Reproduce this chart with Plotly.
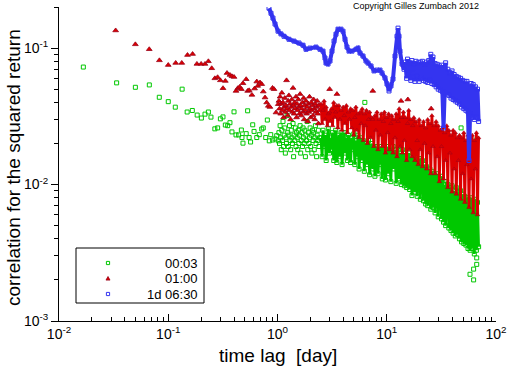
import math
import plotly.graph_objects as go

# ---------------- data ----------------
# 00:03 series: isolated points (short lags + outliers)
green_pts_x = [0.0167, 0.0337, 0.050, 0.0671, 0.0828, 0.100, 0.116, 0.134, 0.149, 0.166,
               0.184, 0.201, 0.217, 0.233, 0.246, 0.267, 0.283, 0.300, 0.317, 0.333,
               0.350, 0.367, 0.383, 0.400, 0.417, 0.441, 0.467, 0.473, 0.483, 0.517,
               0.533, 0.550, 0.567, 0.593, 0.610, 0.646, 0.681, 0.717, 0.741, 0.780,
               0.807, 0.841, 0.867, 0.904, 0.949, 0.984, 1.016,
               6.3, 47.9, 51.0, 67.0, 66.6, 57.8, 62.4, 62.4, 66.6, 60.6]
green_pts_y = [0.0726, 0.0556, 0.0516, 0.0537, 0.0436, 0.0405, 0.0369, 0.050, 0.034, 0.0349,
               0.0323, 0.0307, 0.0328, 0.034, 0.0312, 0.0256, 0.026, 0.0303, 0.0313, 0.0273,
               0.027, 0.0284, 0.0243, 0.0341, 0.0231, 0.0231, 0.0251, 0.0221, 0.0201, 0.0236,
               0.0347, 0.0221, 0.0205, 0.0274, 0.0245, 0.0221, 0.0232, 0.0255, 0.026, 0.0221,
               0.0297, 0.0209, 0.0232, 0.0212, 0.0216, 0.0228, 0.0209,
               0.040, 0.026, 0.050, 0.0215, 0.0026, 0.0022, 0.0024, 0.0020, 0.0029, 0.0034]

# 01:00 series: isolated points (short lags + outliers)
red_pts_x = [0.033, 0.050, 0.067, 0.083, 0.100, 0.117, 0.133, 0.150, 0.167, 0.183,
             0.200, 0.217, 0.233, 0.250, 0.267, 0.283, 0.300, 0.317, 0.333, 0.345,
             0.367, 0.383, 0.400, 0.417, 0.433, 0.450, 0.467, 0.483, 0.517, 0.533,
             0.550, 0.583, 0.617, 0.646, 0.659, 0.692, 0.717, 0.741, 0.769, 0.796,
             0.824, 0.853, 0.900, 0.929, 0.969, 1.016,
             3.0, 7.45, 3.5, 15.6, 13.5, 25.5]
red_pts_y = [0.1346, 0.1065, 0.098, 0.0813, 0.0751, 0.0778, 0.0778, 0.0889, 0.0904, 0.0765,
             0.0765, 0.0765, 0.080, 0.0711, 0.060, 0.0611, 0.058, 0.0508, 0.0574, 0.0656,
             0.0635, 0.0621, 0.0614, 0.0485, 0.0508, 0.0519, 0.050, 0.0552, 0.0591, 0.0485,
             0.049, 0.0454, 0.0505, 0.0568, 0.0528, 0.0559, 0.0544, 0.048, 0.0434, 0.0399,
             0.0377, 0.037, 0.051, 0.050, 0.0337, 0.0388,
             0.050, 0.0485, 0.046, 0.042, 0.041, 0.036]

# lags of the medium range (days), shared by 00:03 and 01:00
lag_mid = [1.030, 1.043, 1.056, 1.069, 1.082, 1.096, 1.109, 1.123, 1.137, 1.151,
           1.166, 1.180, 1.195, 1.210, 1.225, 1.240, 1.256, 1.271, 1.287, 1.303,
           1.320, 1.336, 1.353, 1.370, 1.387, 1.404, 1.422, 1.439, 1.457, 1.476,
           1.494, 1.513, 1.532, 1.551, 1.570, 1.590, 1.610, 1.630, 1.650, 1.671,
           1.692, 1.713, 1.734, 1.756, 1.778, 1.800, 1.822, 1.845, 1.868, 1.892,
           1.915, 1.939, 1.963, 1.988, 2.013, 2.038, 2.064, 2.089, 2.116, 2.142,
           2.169, 2.196, 2.223, 2.251, 2.279, 2.308, 2.337, 2.366, 2.396, 2.426]
green_mid = [0.024, 0.020, 0.027, 0.022, 0.018, 0.025, 0.021, 0.029, 0.019, 0.023,
             0.026, 0.017, 0.022, 0.020, 0.032, 0.024, 0.019, 0.023, 0.027, 0.021,
             0.018, 0.025, 0.022, 0.020, 0.028, 0.016, 0.023, 0.021, 0.026, 0.019,
             0.024, 0.022, 0.018, 0.025, 0.020, 0.023, 0.027, 0.017, 0.021, 0.024,
             0.019, 0.026, 0.022, 0.020, 0.025, 0.016, 0.023, 0.021, 0.029, 0.018,
             0.024, 0.020, 0.022, 0.026, 0.019, 0.023, 0.017, 0.025, 0.021, 0.024,
             0.018, 0.022, 0.027, 0.020, 0.016, 0.023, 0.021, 0.025, 0.019, 0.022]
red_mid = [0.041, 0.036, 0.044, 0.033, 0.039, 0.047, 0.035, 0.040, 0.031, 0.037,
           0.043, 0.034, 0.038, 0.058, 0.036, 0.032, 0.041, 0.045, 0.035, 0.039,
           0.030, 0.037, 0.042, 0.034, 0.051, 0.038, 0.033, 0.040, 0.036, 0.044,
           0.031, 0.039, 0.035, 0.042, 0.037, 0.033, 0.046, 0.038, 0.032, 0.036,
           0.040, 0.034, 0.043, 0.030, 0.038, 0.035, 0.041, 0.033, 0.037, 0.029,
           0.039, 0.034, 0.044, 0.036, 0.031, 0.040, 0.035, 0.038, 0.032, 0.042,
           0.036, 0.030, 0.039, 0.034, 0.037, 0.041, 0.033, 0.028, 0.038, 0.035]

# lags of the dense range (days), shared by 00:03 and 01:00
lag_dense = [2.50, 2.56, 2.61, 2.67, 2.73, 2.79, 2.86, 2.92, 2.99, 3.05,
             3.12, 3.19, 3.27, 3.34, 3.41, 3.49, 3.57, 3.65, 3.73, 3.82,
             3.90, 3.99, 4.08, 4.17, 4.27, 4.36, 4.46, 4.56, 4.67, 4.77,
             4.88, 4.99, 5.10, 5.22, 5.33, 5.45, 5.58, 5.70, 5.83, 5.96,
             6.10, 6.23, 6.37, 6.52, 6.66, 6.81, 6.97, 7.12, 7.28, 7.45,
             7.62, 7.79, 7.96, 8.14, 8.33, 8.51, 8.71, 8.90, 9.10, 9.31,
             9.52, 9.73, 9.95, 10.2, 10.4, 10.6, 10.9, 11.1, 11.4, 11.6,
             11.9, 12.2, 12.4, 12.7, 13.0, 13.3, 13.6, 13.9, 14.2, 14.5,
             14.8, 15.2, 15.5, 15.9, 16.2, 16.6, 17.0, 17.3, 17.7, 18.1,
             18.5, 19.0, 19.4, 19.8, 20.3, 20.7, 21.2, 21.7, 22.2, 22.7,
             23.2, 23.7, 24.2, 24.8, 25.3, 25.9, 26.5, 27.1, 27.7, 28.3,
             29.0, 29.6, 30.3, 31.0, 31.7, 32.4, 33.1, 33.9, 34.6, 35.4,
             36.2, 37.0, 37.9, 38.7, 39.6, 40.5, 41.4, 42.4, 43.3, 44.3,
             45.3, 46.3, 47.4, 48.4, 49.5, 50.7, 51.8, 53.0, 54.2, 55.4,
             56.6, 57.9, 59.2, 60.6, 61.9, 63.3, 64.8, 66.2, 67.7, 69.3]
green_dense = [0.022, 0.016, 0.025, 0.019, 0.023, 0.015, 0.021, 0.0256, 0.017, 0.022,
               0.018, 0.024, 0.015, 0.021, 0.025, 0.0145, 0.020, 0.023, 0.016, 0.024,
               0.014, 0.021, 0.024, 0.017, 0.022, 0.015, 0.023, 0.019, 0.0145, 0.022,
               0.018, 0.0235, 0.014, 0.021, 0.016, 0.023, 0.013, 0.020, 0.022, 0.015,
               0.021, 0.0125, 0.019, 0.020, 0.014, 0.021, 0.0118, 0.018, 0.020, 0.013,
               0.019, 0.0115, 0.017, 0.019, 0.012, 0.018, 0.014, 0.019, 0.011, 0.017,
               0.019, 0.0108, 0.016, 0.019, 0.012, 0.018, 0.0105, 0.017, 0.019, 0.013,
               0.018, 0.0102, 0.016, 0.019, 0.011, 0.017, 0.0100, 0.018, 0.014, 0.0098,
               0.017, 0.0095, 0.015, 0.017, 0.0092, 0.016, 0.0083, 0.014, 0.016, 0.0088,
               0.016, 0.0082, 0.014, 0.0155, 0.0078, 0.013, 0.015, 0.0076, 0.014, 0.0072,
               0.0135, 0.0070, 0.012, 0.013, 0.0066, 0.0125, 0.0068, 0.012, 0.0062, 0.011,
               0.012, 0.0058, 0.0105, 0.011, 0.0056, 0.0115, 0.0053, 0.010, 0.0050, 0.0105,
               0.0100, 0.0048, 0.0095, 0.0046, 0.0098, 0.0044, 0.0090, 0.0042, 0.0095, 0.0043,
               0.0088, 0.0040, 0.0090, 0.0038, 0.0085, 0.0037, 0.0082, 0.0036, 0.0080, 0.0034,
               0.0078, 0.0033, 0.0080, 0.0034, 0.0076, 0.0031, 0.0078, 0.0033, 0.0074, 0.0035]
red_dense = [0.039, 0.028, 0.035, 0.041, 0.030, 0.037, 0.027, 0.033, 0.034, 0.029,
             0.036, 0.027, 0.040, 0.031, 0.034, 0.038, 0.026, 0.038, 0.030, 0.035,
             0.025, 0.037, 0.032, 0.028, 0.038, 0.024, 0.034, 0.030, 0.036, 0.026,
             0.035, 0.023, 0.031, 0.037, 0.025, 0.033, 0.022, 0.034, 0.028, 0.036,
             0.021, 0.033, 0.027, 0.035, 0.020, 0.030, 0.034, 0.022, 0.031, 0.030,
             0.019, 0.032, 0.025, 0.034, 0.018, 0.030, 0.023, 0.033, 0.019, 0.029,
             0.034, 0.017, 0.031, 0.024, 0.033, 0.018, 0.028, 0.032, 0.017, 0.030,
             0.022, 0.033, 0.016, 0.029, 0.036, 0.019, 0.031, 0.017, 0.034, 0.021,
             0.031, 0.015, 0.028, 0.035, 0.018, 0.030, 0.016, 0.027, 0.031, 0.015,
             0.029, 0.021, 0.014, 0.030, 0.018, 0.027, 0.0135, 0.029, 0.020, 0.026,
             0.013, 0.030, 0.017, 0.028, 0.012, 0.032, 0.019, 0.027, 0.012, 0.029,
             0.016, 0.027, 0.0105, 0.025, 0.019, 0.026, 0.011, 0.024, 0.015, 0.027,
             0.0095, 0.025, 0.017, 0.023, 0.0088, 0.025, 0.013, 0.024, 0.0085, 0.022,
             0.015, 0.023, 0.0078, 0.022, 0.012, 0.024, 0.0074, 0.021, 0.014, 0.023,
             0.0068, 0.022, 0.011, 0.023, 0.0062, 0.021, 0.013, 0.024, 0.0060, 0.022]

# 1d 06:30 series
blue_x = [0.836, 0.872, 0.909, 0.949, 1.011, 1.076, 1.147, 1.274, 1.416, 1.573,
          1.712, 1.824, 1.984, 2.251, 2.449, 2.609, 2.721, 2.779, 2.899, 3.024,
          3.154, 3.290, 3.431, 3.579, 3.813, 3.977, 4.149, 4.327, 4.514, 4.808,
          5.230, 5.456, 5.690, 6.062, 6.458, 6.736, 7.175, 7.645, 8.144, 8.675,
          9.049, 9.639, 10.05, 10.49, 10.94, 11.41, 11.90, 12.41, 12.68, 12.95,
          13.22, 13.79, 14.38,
          14.8, 15.2, 15.5, 15.9, 16.2, 16.6, 17.0, 17.3, 17.7, 18.1,
          18.5, 19.0, 19.4, 19.8, 20.3, 20.7, 21.2, 21.7, 22.2, 22.7,
          23.2, 23.7, 24.2, 24.8, 25.3, 25.9, 26.5, 27.1, 27.7, 28.3,
          29.0, 29.6, 30.3, 31.0, 31.7, 32.4, 33.1, 33.9, 34.6, 35.4,
          36.2, 37.0, 37.9, 38.7, 39.6, 40.5, 41.4, 42.4, 43.3, 44.3,
          45.3, 46.3, 47.4, 48.4, 49.5, 50.7, 51.8, 53.0, 54.2, 55.4,
          56.6, 57.9, 59.2, 60.6, 61.9, 63.3, 64.8, 66.2, 67.7, 69.3]
blue_y = [0.196, 0.180, 0.166, 0.150, 0.133, 0.127, 0.122, 0.116, 0.1125, 0.109,
          0.105, 0.098, 0.100, 0.1017, 0.098, 0.095, 0.0845, 0.0777, 0.0764, 0.0804,
          0.095, 0.1125, 0.1265, 0.1376, 0.1376, 0.133, 0.116, 0.1017, 0.095, 0.095,
          0.098, 0.100, 0.092, 0.0874, 0.0804, 0.0777, 0.0739, 0.068, 0.069, 0.069,
          0.0657, 0.0604, 0.0546, 0.0485, 0.0528, 0.0594, 0.0874, 0.122, 0.140, 0.122,
          0.095, 0.0764, 0.070,
          0.079, 0.060, 0.083, 0.064, 0.078, 0.058, 0.081, 0.066, 0.077, 0.057,
          0.080, 0.062, 0.078, 0.057, 0.079, 0.060, 0.080, 0.058, 0.076, 0.057,
          0.079, 0.056, 0.081, 0.058, 0.090, 0.055, 0.086, 0.054, 0.077, 0.052,
          0.076, 0.050, 0.074, 0.049, 0.075, 0.048, 0.026, 0.047, 0.078, 0.046,
          0.070, 0.045, 0.066, 0.043, 0.068, 0.042, 0.064, 0.041, 0.062, 0.040,
          0.061, 0.039, 0.060, 0.037, 0.058, 0.036, 0.057, 0.035, 0.057, 0.034,
          0.015, 0.033, 0.055, 0.031, 0.054, 0.030, 0.052, 0.031, 0.050, 0.029]

series_names = ["00:03", "01:00", "1d 06:30"]
x_tick_vals = [0.01, 0.1, 1, 10, 100]
x_tick_text = ["10<sup>-2</sup>", "10<sup>-1</sup>", "10<sup>0</sup>", "10<sup>1</sup>", "10<sup>2</sup>"]
y_tick_vals = [0.001, 0.01, 0.1]
y_tick_text = ["10<sup>-3</sup>", "10<sup>-2</sup>", "10<sup>-1</sup>"]
y_top = 0.2

# ---------------- styles ----------------
GREEN = "#00c800"
RED = "#dc0000"
RED_EDGE = "#9a0018"
BLUE = "#3434f0"
FONT = "Liberation Sans, Arial, sans-serif"

# plot area in pixels (for the hand-drawn legend box)
W, H = 512, 366
ML, MR, MT, MB = 59, 16, 7, 45
PW, PH = W - ML - MR, H - MT - MB


def px(xp):
    return (xp - ML) / PW


def py(yp):
    return (H - MB - yp) / PH


def fit(xs, ys):
    n = min(len(xs), len(ys))
    return xs[:n], ys[:n]


fig = go.Figure()

gx, gy = fit(green_pts_x + lag_mid, green_pts_y + green_mid)
fig.add_trace(go.Scatter(x=gx, y=gy, mode="markers", name=series_names[0],
                         marker=dict(symbol="square-open", size=4, color=GREEN,
                                     line=dict(width=1, color=GREEN))))
gx, gy = fit(lag_dense, green_dense)
fig.add_trace(go.Scatter(x=gx, y=gy, mode="lines+markers", name=series_names[0],
                         line=dict(color=GREEN, width=2.8),
                         marker=dict(symbol="square-open", size=4, color=GREEN,
                                     line=dict(width=1, color=GREEN))))

rx, ry = fit(red_pts_x + lag_mid, red_pts_y + red_mid)
fig.add_trace(go.Scatter(x=rx, y=ry, mode="markers", name=series_names[1],
                         marker=dict(symbol="triangle-up", size=5, color=RED,
                                     line=dict(width=0.8, color=RED_EDGE))))
rx, ry = fit(lag_dense, red_dense)
fig.add_trace(go.Scatter(x=rx, y=ry, mode="lines+markers", name=series_names[1],
                         line=dict(color=RED, width=2.8),
                         marker=dict(symbol="triangle-up", size=4, color=RED,
                                     line=dict(width=0.5, color=RED_EDGE))))

bx, by = fit(blue_x, blue_y)
fig.add_trace(go.Scatter(x=bx, y=by, mode="lines+markers", name=series_names[2],
                         line=dict(color=BLUE, width=4),
                         marker=dict(symbol="square-open", size=4, color=BLUE,
                                     line=dict(width=1, color=BLUE))))

minor_x = [m * 10.0 ** e for e in range(-2, 2) for m in range(2, 10)]
minor_y = [m * 10.0 ** e for e in range(-3, 0) for m in range(2, 10) if m * 10.0 ** e <= y_top + 1e-9]

axis_common = dict(type="log", showgrid=False, zeroline=False, showline=True,
                   linecolor="black", linewidth=1, tickcolor="black", tickwidth=1,
                   tickfont=dict(family=FONT, size=14, color="black"), mirror=False)

# hand-drawn legend (box + symbols), matching the reference layout
leg_rows = [263, 278.5, 294]
shapes = [dict(type="rect", xref="paper", yref="paper",
               x0=px(76), x1=px(204), y0=py(303), y1=py(248),
               line=dict(color="black", width=1), fillcolor="white", layer="above")]
sx = 108
shapes.append(dict(type="rect", xref="paper", yref="paper", layer="above",
                   x0=px(sx - 1.6), x1=px(sx + 1.6), y0=py(leg_rows[0] + 1.6), y1=py(leg_rows[0] - 1.6),
                   line=dict(color=GREEN, width=1), fillcolor="rgba(0,0,0,0)"))
ty = leg_rows[1]
shapes.append(dict(type="path", xref="paper", yref="paper", layer="above",
                   path=f"M {px(sx - 2)},{py(ty + 1.6)} L {px(sx + 2)},{py(ty + 1.6)} L {px(sx)},{py(ty - 2)} Z",
                   line=dict(color=RED_EDGE, width=0.8), fillcolor=RED))
shapes.append(dict(type="rect", xref="paper", yref="paper", layer="above",
                   x0=px(sx - 1.6), x1=px(sx + 1.6), y0=py(leg_rows[2] + 1.6), y1=py(leg_rows[2] - 1.6),
                   line=dict(color=BLUE, width=1), fillcolor="rgba(0,0,0,0)"))

annotations = [
    dict(text="Copyright Gilles Zumbach 2012", xref="paper", yref="paper",
         x=px(481), y=py(6), xanchor="right", yanchor="middle", showarrow=False,
         font=dict(family=FONT, size=9, color="black")),
    dict(text="time lag\u00a0 [day]", xref="paper", yref="paper",
         x=px(278), y=py(355), xanchor="center", yanchor="middle", showarrow=False,
         font=dict(family=FONT, size=19, color="black")),
    dict(text="correlation for the squared return", xref="paper", yref="paper",
         x=px(13), y=py(168), xanchor="center", yanchor="middle", showarrow=False,
         textangle=-90, font=dict(family=FONT, size=19, color="black")),
]
for name, row in zip(series_names, leg_rows):
    annotations.append(dict(text=name, xref="paper", yref="paper", x=px(200), y=py(row),
                            xanchor="right", yanchor="middle", showarrow=False,
                            font=dict(family=FONT, size=13, color="black")))

fig.update_layout(
    width=W, height=H,
    margin=dict(l=ML, r=MR, t=MT, b=MB, pad=0, autoexpand=False),
    paper_bgcolor="white", plot_bgcolor="white",
    font=dict(family=FONT, color="black"),
    showlegend=False,
    hovermode=False,
    xaxis=dict(range=[-2, 2], tickmode="array", tickvals=x_tick_vals, ticktext=x_tick_text,
               ticks="inside", ticklen=7, automargin=False,
               minor=dict(tickmode="array", tickvals=minor_x, ticks="inside", ticklen=4,
                          tickcolor="black", showgrid=False),
               **axis_common),
    yaxis=dict(range=[-3, math.log10(y_top)], tickmode="array", tickvals=y_tick_vals,
               ticktext=y_tick_text, ticks="outside", ticklen=7, automargin=False,
               minor=dict(tickmode="array", tickvals=minor_y, ticks="outside", ticklen=4,
                          tickcolor="black", showgrid=False),
               **axis_common),
    shapes=shapes,
    annotations=annotations,
)

fig.write_html("out.html", config={"displayModeBar": False, "staticPlot": True},
               post_script="document.body.style.margin='0';document.body.style.overflow='hidden';")
